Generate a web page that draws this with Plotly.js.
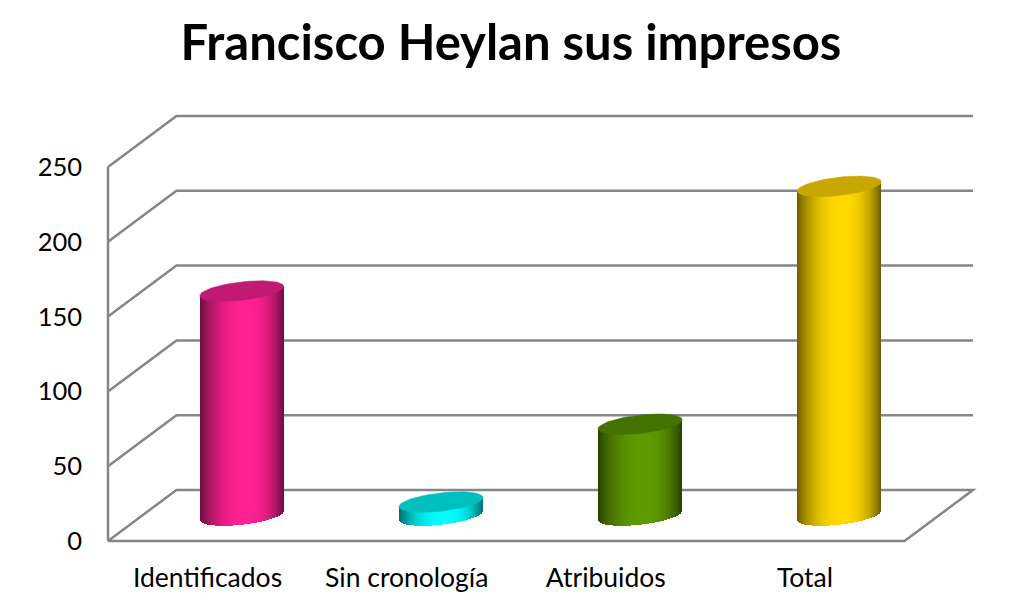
<!DOCTYPE html>
<html><head><meta charset="utf-8">
<script src="https://cdn.plot.ly/plotly-3.0.1.min.js"></script>
<style>html,body{margin:0;padding:0;background:#fff}#c{width:1022px;height:609px}</style>
</head><body><div id="c"></div>
<script>
const categories = ['Identificados','Sin cronología','Atribuidos','Total'];
const values = [150, 9, 61, 220];
const yTicks = [0, 50, 100, 150, 200, 250];
const sideColors = [[255,32,146],[0,255,255],[95,154,0],[255,216,0]];
const capColors = ['#C01A72','#00BFBF','#437200','#C8A800'];

const W = 1022, H = 609;
const pad = 6;                       // breathing room so edge lines are not clipped
const mL = 108-pad, mR = 48.5-pad, mT = 116-pad, mB = 68-pad;
const pxPerCat = 199.25;
const pxPerVal = 1.496;
const depthX = 68.5 / pxPerCat;      // chart depth along the category axis
const depthY = 51 / pxPerVal;        // chart depth along the value axis
const radius = 42 / pxPerCat;        // cylinder half width
const tilt = 4.6 / pxPerVal;         // rise of the right end of an ellipse
const semi = 9.2 / pxPerVal;         // ellipse half height
const lineColor = '#868686';
const traces = [];
const shapes = [];

function wall(xs, ys){
  let p = '';
  xs.forEach((x,k) => { p += (k?'L':'M') + x + ',' + ys[k]; });
  shapes.push({type:'path',xref:'x',yref:'y',layer:'below',path:p,
    line:{color:lineColor,width:2.5},fillcolor:'rgba(0,0,0,0)'});
}
const x0 = -0.5, x1 = 3.5;
yTicks.forEach(v => {
  if (v === 0) {
    wall([x0,x0+depthX,x1+depthX,x1,x0],[0,depthY,depthY,0,0]);
  } else {
    wall([x0,x0+depthX,x1+depthX],[v,v+depthY,v+depthY]);
  }
});
wall([x0,x0],[0,yTicks[yTicks.length-1]]);

const strips = 84;
categories.forEach((c,i) => {
  const cx = i + depthX/2, cy = depthY/2;
  const xs=[], bases=[], ys=[], cols=[];
  for (let k=0;k<strips;k++){
    const t=(k+0.5)/strips, u=2*t-1;
    const s=(t-0.55)/(t<0.55?0.55:0.45);
    const shade=1-0.58*Math.pow(Math.abs(s),2.4);
    const lower=cy+tilt*u-semi*Math.sqrt(1-u*u);
    xs.push(cx+u*radius); bases.push(lower);
    ys.push(values[i]+cy+tilt*u-lower);
    const b=sideColors[i];
    cols.push('rgb('+b.map(q=>Math.round(q*shade)).join(',')+')');
  }
  traces.push({type:'bar',x:xs,y:ys,base:bases,width:1.1/pxPerCat,
    marker:{color:cols,line:{width:0}},name:c,hoverinfo:'skip',showlegend:false,cliponaxis:false});
  const ex=[],ey=[];
  for (let a=0;a<=72;a++){
    const th=a/72*2*Math.PI, u=Math.cos(th);
    ex.push(cx+radius*u);
    ey.push(values[i]+cy+tilt*u+semi*Math.sin(th));
  }
  traces.push({type:'scatter',mode:'lines',x:ex,y:ey,fill:'toself',fillcolor:capColors[i],
    line:{color:capColors[i],width:0.5},cliponaxis:false,hoverinfo:'skip',showlegend:false,name:c});
});

const fam = 'Lato, Carlito, sans-serif';
Plotly.newPlot('c',traces,{
  width:W,height:H,
  paper_bgcolor:'#fff',plot_bgcolor:'#fff',
  margin:{l:mL,r:mR,t:mT,b:mB,pad:0},
  barmode:'overlay',bargap:0,showlegend:false,shapes:shapes,
  title:{text:'Francisco Heylan sus impresos',x:0.5,xanchor:'center',y:0.93,yanchor:'middle',xref:'container',
    font:{family:fam,size:49,color:'#000',weight:700}},
  xaxis:{range:[x0-pad/pxPerCat,x1+depthX+pad/pxPerCat],tickmode:'array',tickvals:categories.map((c,i)=>i),ticktext:categories,
    showgrid:false,zeroline:false,showline:false,ticks:'',tickfont:{family:fam,size:26.5,color:'#000'},ticklabelstandoff:12,fixedrange:true},
  yaxis:{range:[-pad/pxPerVal,(H-116-68)/pxPerVal+pad/pxPerVal],tickmode:'array',tickvals:yTicks,ticktext:yTicks.map(String),
    showgrid:false,zeroline:false,showline:false,ticks:'',tickfont:{family:fam,size:25.5,color:'#000'},ticklabelstandoff:19,fixedrange:true}
},{displayModeBar:false,staticPlot:true});
</script></body></html>
